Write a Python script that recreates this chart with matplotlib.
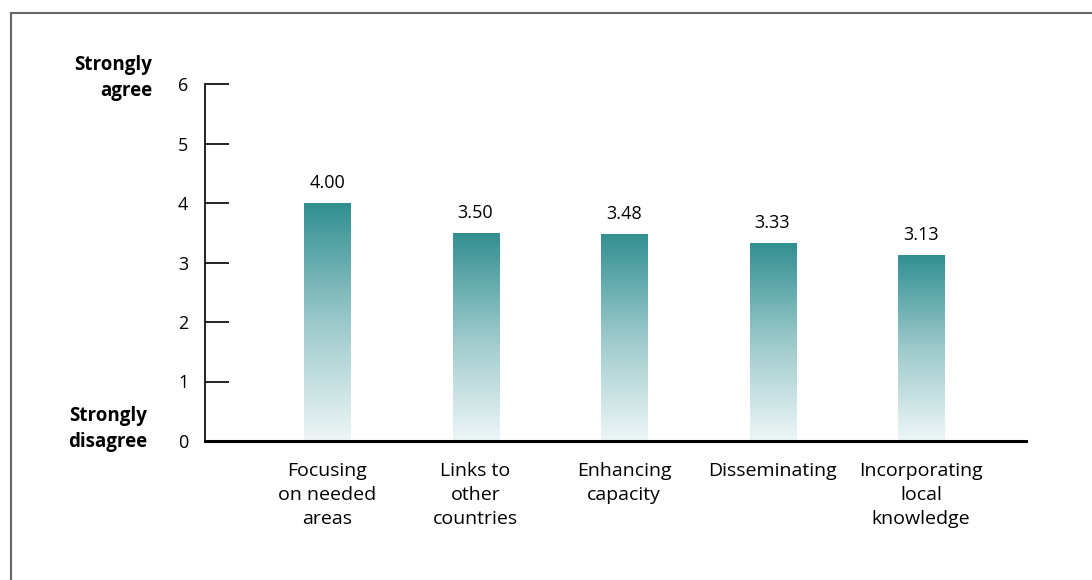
import numpy as np
import matplotlib.pyplot as plt
from matplotlib.colors import LinearSegmentedColormap
from matplotlib.lines import Line2D

plt.rcParams['font.family'] = ['Open Sans', 'DejaVu Sans']

# data
categories = ['Focusing\non needed\nareas', 'Links to\nother\ncountries',
              'Enhancing\ncapacity', 'Disseminating',
              'Incorporating\nlocal\nknowledge']
scores = [4.00, 3.50, 3.48, 3.33, 3.13]
yticks = [0, 1, 2, 3, 4, 5, 6]

teal = LinearSegmentedColormap.from_list('teal', ['#eef6f7', '#9cc9cb', '#318f91'])

fig = plt.figure(figsize=(10.92, 5.80), dpi=100)
ax = fig.add_axes([205/1092, 1-441/580, (1026-205)/1092, (441-84)/580])

x = np.arange(len(categories))
bars = ax.bar(x, scores, width=0.31, color='none', edgecolor='none')

# gradient fill per bar, dark at the top of each bar
grad = np.linspace(0, 1, 256).reshape(-1, 1)
for b, v in zip(bars, scores):
    x0 = b.get_x()
    im = ax.imshow(grad, cmap=teal, origin='lower', aspect='auto',
                   extent=[x0, x0 + b.get_width(), 0, v], zorder=2)
    im.set_clip_path(b)
    ax.annotate(f'{v:.2f}', (b.get_x() + b.get_width()/2, v),
                xytext=(0, 8), textcoords='offset points',
                ha='center', va='bottom', fontsize=13)

ax.set_xlim(-0.822, 4.707)
ax.set_ylim(0, 6)
ax.set_yticks(yticks)
ax.set_xticks(x)
ax.set_xticklabels(categories, fontsize=14)
for lab in ax.get_xticklabels():
    lab.set_linespacing(1.45)
ax.tick_params(axis='x', length=0, pad=15)
ax.tick_params(axis='y', direction='in', length=17, width=1.2, pad=12, labelsize=13)

for s in ['top', 'right']:
    ax.spines[s].set_visible(False)
ax.spines['left'].set_linewidth(1.2)
ax.spines['bottom'].set_linewidth(2.2)
ax.spines['bottom'].set_zorder(3)

fig.text(152/1092, 1-78/580, 'Strongly\nagree', ha='right', va='center',
         fontsize=13.5, fontweight='bold', linespacing=1.45)
fig.text(147/1092, 1-429/580, 'Strongly\ndisagree', ha='right', va='center',
         fontsize=13.5, fontweight='bold', linespacing=1.4)

# outer frame (top and left)
fig.add_artist(Line2D([11/1092, 1], [1-13/580, 1-13/580], color='#666666', lw=1.5))
fig.add_artist(Line2D([11/1092, 11/1092], [0, 1-13/580], color='#666666', lw=1.5))

fig.savefig('out.png', dpi=100)
